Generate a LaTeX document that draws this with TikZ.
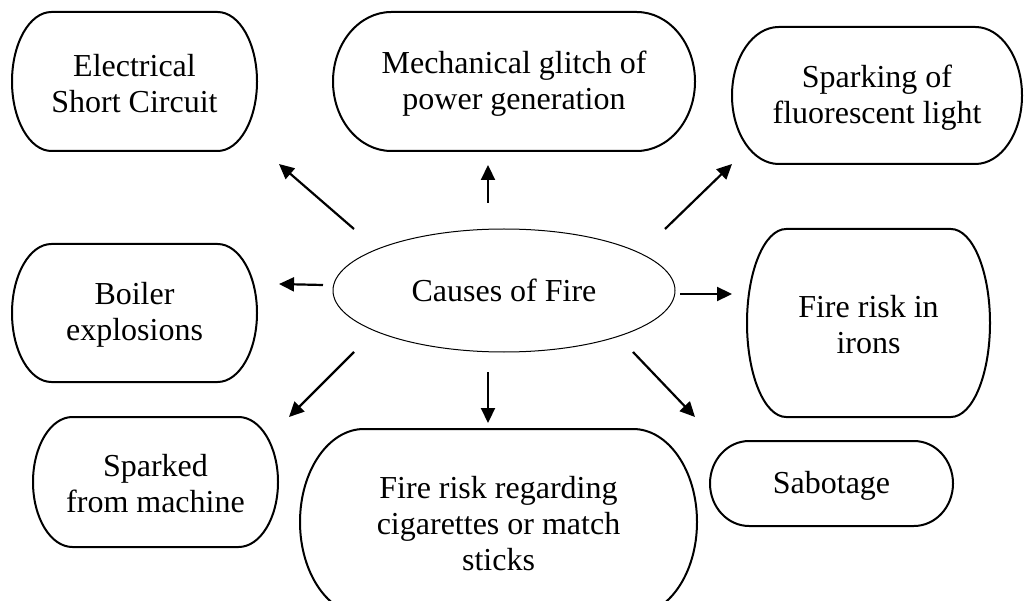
\documentclass[tikz,border=0pt]{standalone}
\usepackage{fontspec}
\setmainfont{Liberation Serif}
\usetikzlibrary{arrows.meta,shapes.geometric}

\tikzset{
  boxline/.style={line width=2pt, line join=round},
  boxtext/.style={align=center, inner sep=0pt, yshift=-2pt, font=\fontsize{32}{36}\selectfont},
  hub/.style={ellipse, draw, line width=1pt, minimum width=342pt, minimum height=123pt,
              inner sep=0pt, font=\fontsize{32}{36}\selectfont},
  cause/.style={line width=2.2pt, -{Triangle[length=15pt,width=14pt]}},
}

% terminator-shaped box: name, left, top, right, bottom, text
\newcommand\termnode[6]{%
  \pgfmathsetmacro\tbrx{0.161*(#4-#2)}%
  \pgfmathsetmacro\tbry{(#5-#3)/2}%
  \node[boxtext] (#1) at ({(#2+#4)/2},{(#3+#5)/2}) {#6};
  \draw[boxline] (#2+\tbrx,#3) -- (#4-\tbrx,#3)
    arc[start angle=90,end angle=-90,x radius=\tbrx pt,y radius=\tbry pt]
    -- (#2+\tbrx,#5)
    arc[start angle=270,end angle=90,x radius=\tbrx pt,y radius=\tbry pt] -- cycle;
}

\begin{document}
\begin{tikzpicture}[x=1pt,y=-1pt]
  \useasboundingbox (0,0) rectangle (1027,601);
  \clip (0,0) rectangle (1027,601);

  % central topic
  \node[hub] (causes) at (504,290.5) {Causes of Fire};

  % causes around it
  \termnode{elec}{12}{12}{257}{151}{Electrical\\Short Circuit}
  \termnode{mech}{333}{12}{695}{151}{Mechanical glitch of\\power generation}
  \termnode{spark}{732}{27}{1022}{164}{Sparking of\\fluorescent light}
  \termnode{boiler}{12}{244}{257}{382}{Boiler\\explosions}
  \termnode{irons}{747}{229}{990}{417}{Fire risk in\\irons}
  \termnode{sparked}{33}{417}{278}{547}{Sparked\\from machine}
  \termnode{cig}{300}{429}{697}{615}{Fire risk regarding\\cigarettes or match\\sticks}
  \termnode{sabot}{710}{441}{953}{526}{Sabotage}

  % arrow ends
  \coordinate (t1) at (354,229); \coordinate (h1) at (279,164);
  \coordinate (t2) at (488,203); \coordinate (h2) at (488,165);
  \coordinate (t3) at (665,229); \coordinate (h3) at (732,164);
  \coordinate (t4) at (323,285); \coordinate (h4) at (279,284);
  \coordinate (t5) at (680,294); \coordinate (h5) at (732,294);
  \coordinate (t6) at (354,352); \coordinate (h6) at (289,417);
  \coordinate (t7) at (488,372); \coordinate (h7) at (488,423);
  \coordinate (t8) at (633,352); \coordinate (h8) at (695,417);

  \draw[cause] (t1) -- (h1);
  \draw[cause] (t2) -- (h2);
  \draw[cause] (t3) -- (h3);
  \draw[cause] (t4) -- (h4);
  \draw[cause] (t5) -- (h5);
  \draw[cause] (t6) -- (h6);
  \draw[cause] (t7) -- (h7);
  \draw[cause] (t8) -- (h8);
\end{tikzpicture}
\end{document}
